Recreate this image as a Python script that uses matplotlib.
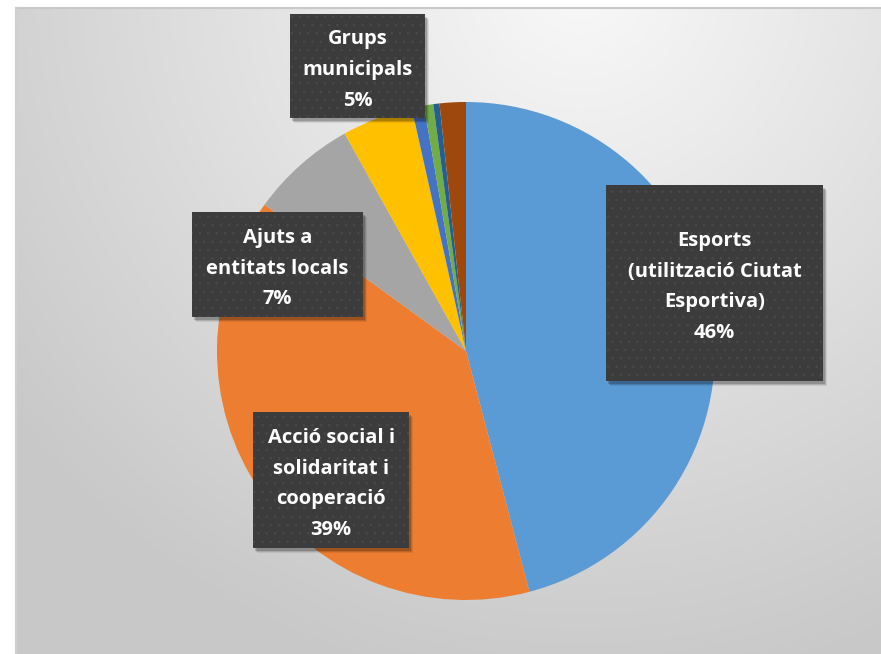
import numpy as np
import matplotlib
matplotlib.use('Agg')
import matplotlib.pyplot as plt
from matplotlib.patches import Rectangle

# slices clockwise from 12 o'clock
categories = ['Esports (utilització Ciutat Esportiva)', 'Acció social i solidaritat i cooperació',
              'Ajuts a entitats locals', 'Grups municipals', 'Altres 1', 'Altres 2', 'Altres 3', 'Altres 4']
values = [45.9, 39.1, 6.9, 4.6, 0.8, 0.6, 0.4, 1.7]
colors = ['#5B9BD5', '#ED7D31', '#A5A5A5', '#FFC000', '#4472C4', '#70AD47', '#255E91', '#9E480E']

# labels shown in boxes (index of slice, text lines)
label_idx = [0, 1, 2, 3]
label_lines = [['Esports', '(utilització Ciutat', 'Esportiva)'],
               ['Acció social i', 'solidaritat i', 'cooperació'],
               ['Ajuts a', 'entitats locals'],
               ['Grups', 'municipals']]
# box layout in pixels (x0, y0 top, x1, y1 bottom)
boxes = [(606, 185, 823, 381), (253, 412, 409, 548), (192, 212, 363, 317), (290, 14, 425, 118)]

plt.rcParams['hatch.linewidth'] = 0.5

W, H = 881, 654
fig = plt.figure(figsize=(W / 100, H / 100), dpi=100)
ax = fig.add_axes([0, 0, 1, 1])

# background gradient
yy, xx = np.mgrid[0:H, 0:W]
d = np.hypot(xx - 580, yy + 20)
g = 0.975 - 0.19 * np.clip(d / 720, 0, 1)
bg = np.dstack([g, g, g])
bg[:, :16] = 1.0
bg[:8, :] = 1.0
ax.imshow(bg, extent=(0, W, 0, H), origin='upper', zorder=0)
ax.plot([16, W], [H - 8, H - 8], color='#c8c8c8', lw=1.5, zorder=1)
ax.plot([16, 16], [0, H - 8], color='#d0d0d0', lw=1.5, zorder=1)

# pie
cx, cy, r = 466, H - 351, 249
ax.pie(values, colors=colors, startangle=90, counterclock=False,
       center=(cx, cy), radius=r, wedgeprops=dict(linewidth=0))

total = sum(values)
for i, (x0, y0, x1, y1) in zip(label_idx, boxes):
    # shadow
    for k, a in zip([5, 4, 3], [0.08, 0.12, 0.18]):
        ax.add_patch(Rectangle((x0 + k - 1, H - y1 - k), x1 - x0, y1 - y0,
                               facecolor='black', alpha=a, lw=0, zorder=3))
    ax.add_patch(Rectangle((x0, H - y1), x1 - x0, y1 - y0, facecolor='#3c3c3c',
                           edgecolor='#4a4a4a', hatch='..', lw=0, zorder=4))
    pct = int(round(values[i] / total * 100))
    txt = '\n'.join(label_lines[i] + [f'{pct}%'])
    ax.text((x0 + x1) / 2, H - (y0 + y1) / 2 - 4, txt, ha='center', va='center',
            color='white', fontsize=14.5, fontweight='bold', family=['Open Sans', 'DejaVu Sans'],
            linespacing=1.72, zorder=5)

ax.set_xlim(0, W)
ax.set_ylim(0, H)
ax.set_aspect('auto')
ax.axis('off')

fig.savefig('out.png', dpi=100)
